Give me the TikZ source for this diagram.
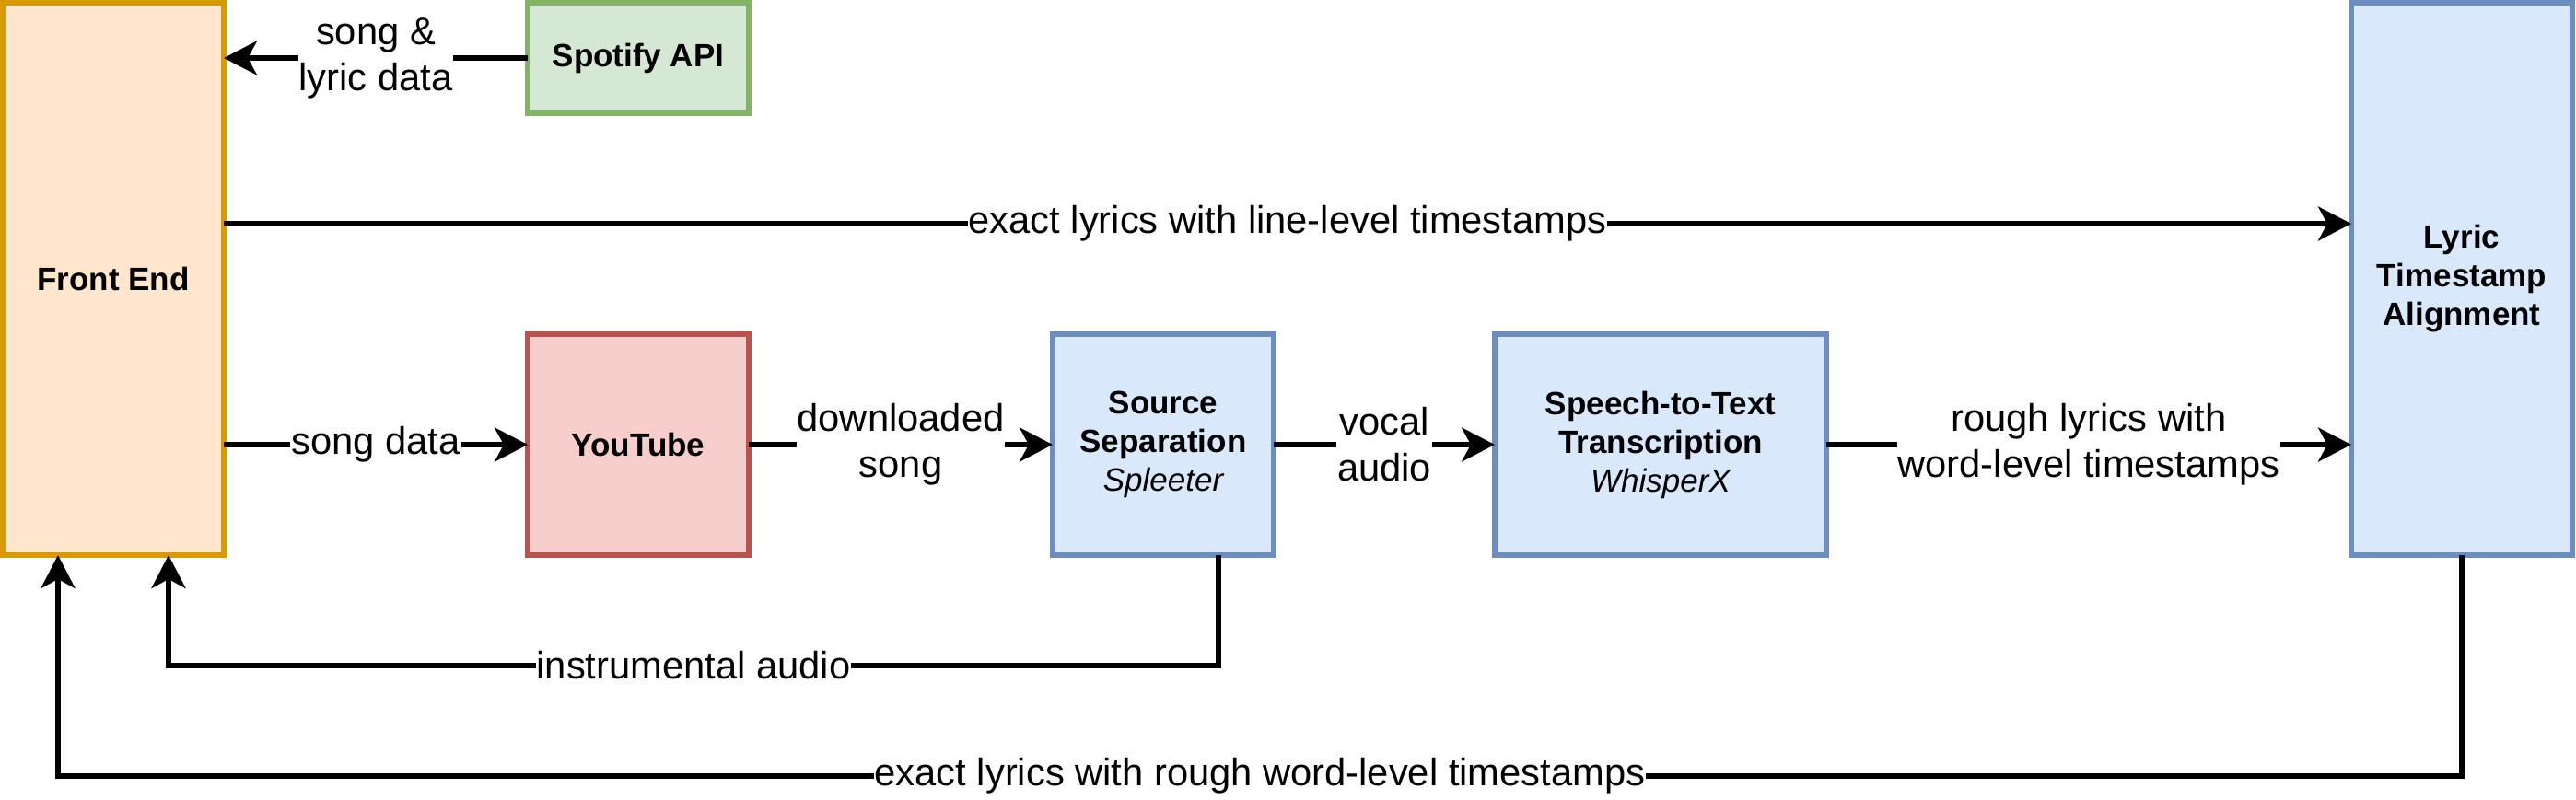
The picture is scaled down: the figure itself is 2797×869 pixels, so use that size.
\documentclass[tikz,border=0pt]{standalone}
\usepackage{fontspec}
\setmainfont{Liberation Sans}
\usetikzlibrary{arrows.meta,calc}
\definecolor{feFill}{HTML}{FFE6CC}
\definecolor{feLine}{HTML}{D79B00}
\definecolor{spFill}{HTML}{D5E8D4}
\definecolor{spLine}{HTML}{82B366}
\definecolor{ytFill}{HTML}{F8CECC}
\definecolor{ytLine}{HTML}{B85450}
\definecolor{bFill}{HTML}{DAE8FC}
\definecolor{bLine}{HTML}{6C8EBF}
\newcommand{\mynodefont}{\fontsize{35pt}{42pt}\selectfont\bfseries}
\newcommand{\mylblfont}{\fontsize{41.7pt}{50pt}\selectfont}
\begin{document}
\begin{tikzpicture}[x=1pt,y=-1pt,
  box/.style={draw, line width=5.2pt, minimum width=240pt, minimum height=240pt,
    outer sep=0pt, inner sep=0pt, align=center, font=\mynodefont},
  conn/.style={line width=5.2pt, -{Stealth[length=36pt,width=37pt,inset=10pt]}},
  link/.style={line width=5.2pt},
  lbl/.style={fill=white, inner xsep=1pt, inner ysep=0pt, align=center, font=\mylblfont}]
\useasboundingbox (0,0) rectangle (2797,869);

\node[box, fill=feFill, draw=feLine, minimum height=600pt] (fe) at (123,303) {Front End};
\node[box, fill=spFill, draw=spLine, minimum height=120pt] (sp) at (693,63) {Spotify API};
\node[box, fill=ytFill, draw=ytLine] (yt) at (693,483) {YouTube};
\node[box, fill=bFill, draw=bLine] (ss) at (1263,483) {Source\\Separation\\\mdseries\itshape Spleeter};
\node[box, fill=bFill, draw=bLine, minimum width=360pt] (stt) at (1803,483) {Speech-to-Text\\Transcription\\\mdseries\itshape WhisperX};
\node[box, fill=bFill, draw=bLine, minimum height=600pt] (lta) at (2673,303) {Lyric\\Timestamp\\Alignment};

% Spotify -> Front End
\draw[conn] (sp.west) -- (sp.west -| fe.east) node[lbl, midway] {song \&\\lyric data};
% Front End -> Lyric alignment (line-level)
\coordinate (feA) at ($(fe.north east)!0.4!(fe.south east)$);
\draw[conn] (feA) -- (feA -| lta.west) node[lbl, midway] {exact lyrics with line-level timestamps};
% Front End -> YouTube
\draw[conn] (yt.west -| fe.east) -- (yt.west) node[lbl, midway] {song data};
% YouTube -> Source Separation
\draw[conn] (yt.east) -- (ss.west) node[lbl, midway] {downloaded\\song};
% Source Separation -> Speech-to-Text
\draw[conn] (ss.east) -- (stt.west) node[lbl, midway] {vocal\\audio};
% Speech-to-Text -> Lyric alignment
\draw[conn] (stt.east) -- (stt.east -| lta.west) node[lbl, midway] {rough lyrics with\\word-level timestamps};
% instrumental audio loop
\coordinate (ssOut) at ($(ss.south west)!0.75!(ss.south east)$);
\coordinate (feIn1) at ($(fe.south west)!0.75!(fe.south east)$);
\coordinate (k1) at ($(ssOut)+(0,120)$);
\draw[conn] (ssOut) -- (k1) -- (k1 -| feIn1) node[lbl, midway] {instrumental audio} -- (feIn1);
% rough word-level loop
\coordinate (feIn2) at ($(fe.south west)!0.25!(fe.south east)$);
\coordinate (k2) at ($(lta.south)+(0,240)$);
\draw[conn] (lta.south) -- (k2) -- (k2 -| feIn2) node[lbl, midway] {exact lyrics with rough word-level timestamps} -- (feIn2);
\end{tikzpicture}
\end{document}
